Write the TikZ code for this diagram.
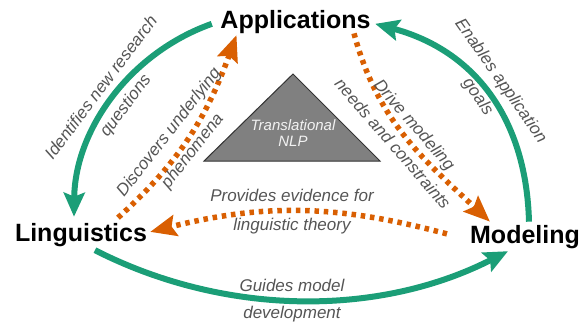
\documentclass[tikz,border=0pt]{standalone}
\usepackage{fontspec}
\setmainfont{Liberation Sans}
\usetikzlibrary{arrows.meta}
\definecolor{tealg}{HTML}{1B9E77}
\definecolor{orng}{HTML}{D95F02}
\definecolor{lblgray}{HTML}{555555}
\definecolor{trifill}{HTML}{808080}
\definecolor{triline}{HTML}{333333}
\definecolor{tritext}{HTML}{F2F2F2}
\begin{document}
\begin{tikzpicture}[x=1pt,y=-1pt,
  mainnode/.style={inner sep=0pt, font=\fontsize{25}{30}\selectfont\bfseries, anchor=base},
  lbl/.style={inner sep=0pt, align=center, text=lblgray, font=\fontsize{17}{29}\selectfont\itshape},
  greenarrow/.style={draw=tealg, line width=6pt, -{Stealth[length=24pt,width=21pt,inset=4pt]}},
  orangearrow/.style={draw=orng, line width=5.5pt, dash pattern=on 4.5pt off 4.8pt, -{Stealth[length=26pt,width=21pt,inset=4pt]}},
]
\useasboundingbox (0,0) rectangle (587,325);

% central triangle
\draw[fill=trifill, draw=triline, line width=1pt] (293,74) -- (380,161) -- (204,161) -- cycle;
\node[inner sep=0pt, align=center, text=tritext, font=\fontsize{15}{16}\selectfont\itshape] (tri) at (293,133) {Translational\\NLP};

% main nodes
\node[mainnode] (app) at (295.5,28) {Applications};
\node[mainnode] (ling) at (81,241) {Linguistics};
\node[mainnode] (mod) at (525,243) {Modeling};

% green connectors
\draw[greenarrow] ([xshift=-8.5pt,yshift=-2.3pt]app.west) to[out=199.5,in=89.4,looseness=0.94] ([xshift=-7pt,yshift=6pt]ling.north);
\draw[greenarrow] ([xshift=14pt,yshift=-3.7pt]ling.south) to[out=-27,in=207,looseness=0.9] ([xshift=-17pt,yshift=-2.7pt]mod.south);
\draw[greenarrow] ([xshift=4pt,yshift=3pt]mod.north) to[out=91.5,in=345,looseness=1.05] ([xshift=4.5pt,yshift=-2.3pt]app.east);

% orange connectors
\draw[orangearrow] ([xshift=37pt,yshift=5pt]ling.north) to[out=42,in=250] ([xshift=-59pt,yshift=-1.7pt]app.south);
\draw[orangearrow] ([xshift=58.5pt,yshift=0pt]app.south) to[out=-75,in=137] ([xshift=-35pt,yshift=3pt]mod.north);
\draw[orangearrow] ([xshift=-23pt,yshift=2.7pt]mod.west) to[out=165,in=14] ([xshift=3pt,yshift=2.7pt]ling.east);

% labels
\node[lbl, font=\fontsize{17}{30}\selectfont\itshape, rotate=53] (l1) at (114,97) {Identifies new research\\questions};
\node[lbl, font=\fontsize{17}{30}\selectfont\itshape, rotate=52] (l2) at (181,142) {Discovers underlying\\phenomena};
\node[lbl, rotate=-49] (l3) at (404,134) {Drive modeling\\needs and constraints};
\node[lbl, font=\fontsize{17}{28}\selectfont\itshape, rotate=-55] (l4) at (489,89) {Enables application\\goals};
\node[lbl, font=\fontsize{17}{28.3}\selectfont\itshape] (l5) at (292,211.5) {Provides evidence for\\linguistic theory};
\node[lbl, font=\fontsize{17}{26.6}\selectfont\itshape] (l6) at (292,300.6) {Guides model\\development};
\end{tikzpicture}
\end{document}
